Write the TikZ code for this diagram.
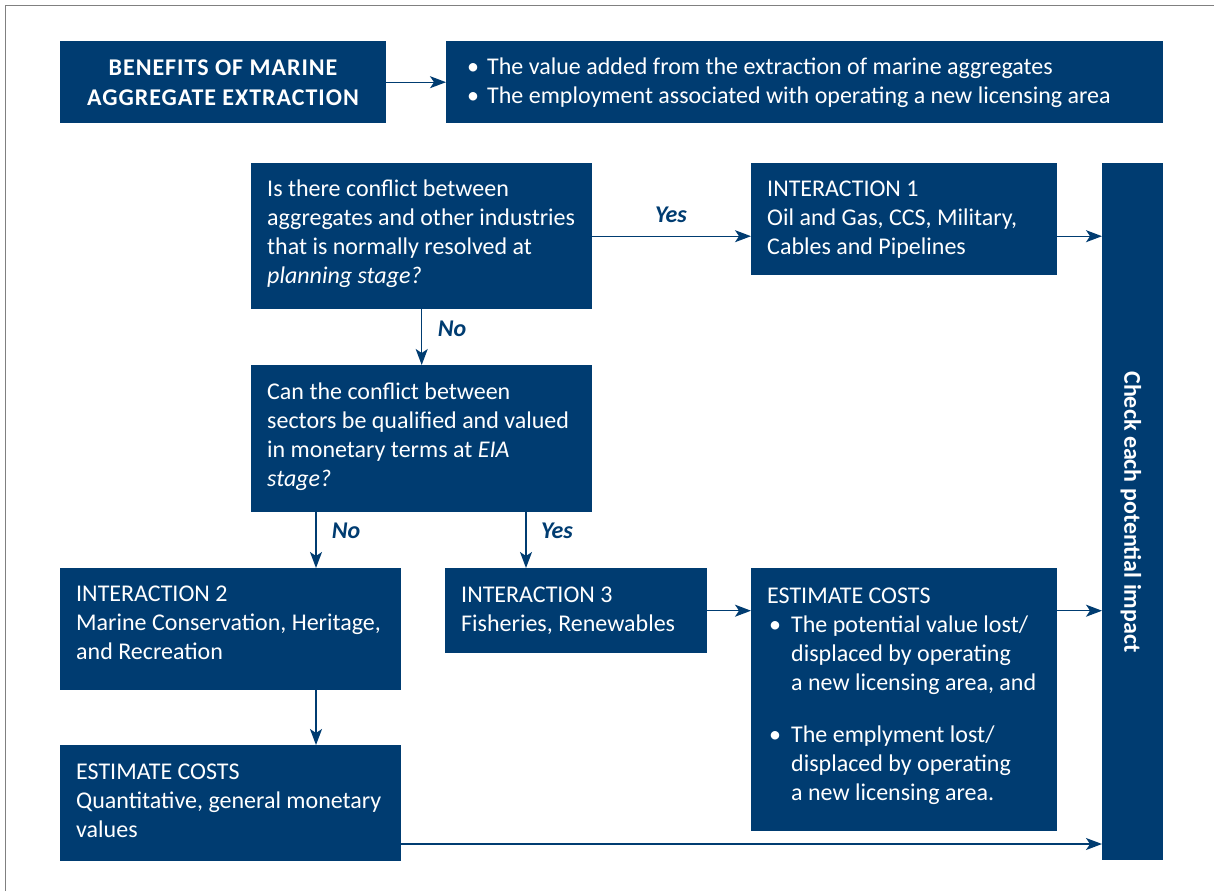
\documentclass[tikz,border=0pt]{standalone}
\usepackage{fontspec}
\setmainfont{Carlito}
\usetikzlibrary{arrows.meta}
\definecolor{navy}{RGB}{0,60,113}
\definecolor{frame}{RGB}{128,128,128}
\newcommand{\bul}[1][20pt]{\makebox[#1][l]{\hspace*{2pt}\textbullet}}
\newcommand{\ind}[1][20pt]{\hspace*{#1}}
\begin{document}
\begin{tikzpicture}[x=1pt,y=-1pt,
  box/.style={fill=navy,draw=none,inner sep=0pt,anchor=north west},
  txt/.style={text=white,anchor=base west,align=left,inner sep=0pt,font=\fontsize{24}{29}\selectfont},
  lbl/.style={text=navy,anchor=base,inner sep=0pt,font=\fontsize{24}{29}\selectfont\bfseries\itshape},
  arr/.style={draw=navy,line width=1.4pt,-{Stealth[length=16pt,width=12pt,inset=4pt]}}]
\useasboundingbox (0,0) rectangle (1214,891);
\draw[frame,line width=1.6pt] (5.5,891) -- (5.5,5.5) -- (1214,5.5);
% boxes
\node[box,minimum width=326pt,minimum height=82pt] (ben) at (60,41) {};
\node[box,minimum width=717pt,minimum height=82pt] (bul) at (446,41) {};
\node[box,minimum width=341pt,minimum height=146pt] (q1) at (251,163) {};
\node[box,minimum width=306pt,minimum height=112pt] (i1) at (751,163) {};
\node[box,minimum width=61pt,minimum height=697pt] (chk) at (1102,163) {};
\node[box,minimum width=341pt,minimum height=147pt] (q2) at (251,365) {};
\node[box,minimum width=341pt,minimum height=122pt] (i2) at (60,568) {};
\node[box,minimum width=262pt,minimum height=85pt] (i3) at (445,568) {};
\node[box,minimum width=306pt,minimum height=263pt] (er) at (751,568) {};
\node[box,minimum width=341pt,minimum height=116pt] (el) at (60,745) {};
% texts (positioned at the baseline of their last line)
\node[txt,anchor=base,align=center,font=\fontsize{24}{30}\selectfont\bfseries\addfontfeature{LetterSpace=4}] (bent) at (223,105)
  {BENEFITS OF MARINE\\AGGREGATE EXTRACTION};
\node[txt] (bult) at (465,103)
  {\bul[22pt]The value added from the extraction of marine aggregates\\
   \bul[22pt]The employment associated with operating a new licensing area};
\node[txt] (q1t) at (267,283)
  {Is there conflict between\\aggregates and other industries\\that is normally resolved at\\\textit{planning stage?}};
\node[txt] (i1t) at (767,254)
  {INTERACTION 1\\Oil and Gas, CCS, Military,\\Cables and Pipelines};
\node[txt] (q2t) at (267,486)
  {Can the conflict between\\sectors be qualified and valued\\in monetary terms at \textit{EIA}\\\textit{stage?}};
\node[txt] (i2t) at (76,659)
  {INTERACTION 2\\Marine Conservation, Heritage,\\and Recreation};
\node[txt] (i3t) at (461,631)
  {INTERACTION 3\\Fisheries, Renewables};
\node[txt] (ert) at (767,800)
  {ESTIMATE COSTS\\
   \bul[24pt]The potential value lost/\\
   \ind[24pt]displaced by operating\\
   \ind[24pt]a new licensing area, and\\[23pt]
   \bul[24pt]The emplyment lost/\\
   \ind[24pt]displaced by operating\\
   \ind[24pt]a new licensing area.};
\node[txt] (elt) at (76,837)
  {ESTIMATE COSTS\\Quantitative, general monetary\\values};
\node[text=white,inner sep=0pt,rotate=-90,font=\fontsize{24}{29}\selectfont\bfseries] (chkt) at (1131,512)
  {Check each potential impact};
% labels
\node[lbl] (yes1) at (671,222) {Yes};
\node[lbl] (no1) at (452,336) {No};
\node[lbl] (no2) at (346,538) {No};
\node[lbl] (yes2) at (557,538) {Yes};
% helper coordinates
\coordinate (nox) at (316,0);
\coordinate (yesx) at (526,0);
\coordinate (boty) at (0,844);
% connectors
\draw[arr] (ben.east) -- (bul.west);
\draw[arr] (q1.east) -- (q1.east -| i1.west);
\draw[arr] (q1.east -| i1.east) -- (q1.east -| chk.west);
\draw[arr] (q1.south) -- (q2.north);
\draw[arr] (q2.south -| nox) -- (i2.north -| nox);
\draw[arr] (q2.south -| yesx) -- (i3.north -| yesx);
\draw[arr] (i3.east) -- (i3.east -| er.west);
\draw[arr] (i3.east -| er.east) -- (i3.east -| chk.west);
\draw[arr] (i2.south -| nox) -- (el.north -| nox);
\draw[arr] (el.east |- boty) -- (chk.west |- boty);
\end{tikzpicture}
\end{document}
